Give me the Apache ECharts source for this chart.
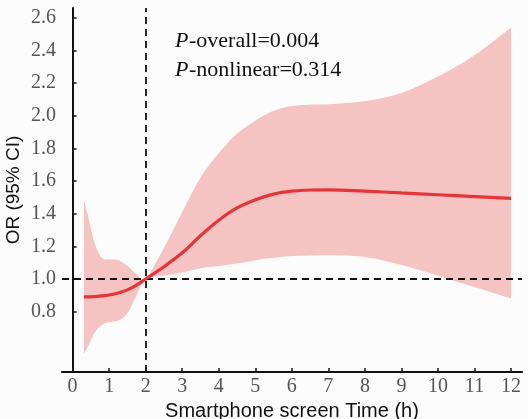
<!DOCTYPE html>
<html><head><meta charset="utf-8">
<script src="https://cdn.jsdelivr.net/npm/echarts@6/dist/echarts.min.js"></script>
<style>html,body{margin:0;padding:0;background:#fcfcfc;}#c{width:528px;height:419px;}</style>
</head><body><div id="c"></div>
<script>
// Smartphone screen time (h)
const xs    = [0.31, 0.45, 0.6, 0.8, 1.0, 1.25, 1.5, 1.75, 2.0, 2.5, 3.0, 3.5, 4.0, 4.5, 5.0, 5.5, 6.0, 6.5, 7.0, 8.0, 9.0, 10.0, 11.0, 12.0];
const orVal = [0.89, 0.89, 0.892, 0.896, 0.902, 0.914, 0.933, 0.962, 1.0, 1.075, 1.16, 1.265, 1.36, 1.435, 1.485, 1.52, 1.538, 1.545, 1.546, 1.538, 1.527, 1.516, 1.505, 1.494];
const upper = [1.49, 1.36, 1.22, 1.13, 1.12, 1.115, 1.08, 1.03, 1.0, 1.19, 1.41, 1.62, 1.77, 1.89, 1.97, 2.03, 2.06, 2.068, 2.07, 2.09, 2.14, 2.24, 2.37, 2.54];
const lower = [0.54, 0.6, 0.67, 0.72, 0.735, 0.745, 0.79, 0.9, 1.0, 1.02, 1.04, 1.065, 1.08, 1.095, 1.115, 1.13, 1.14, 1.143, 1.145, 1.135, 1.085, 1.02, 0.95, 0.88];
const xTicks = [0,1,2,3,4,5,6,7,8,9,10,11,12];
const yTicks = [0.8,1.0,1.2,1.4,1.6,1.8,2.0,2.2,2.4,2.6];
const refX = 2, refY = 1.0;
const pOverall = '0.004', pNonlinear = '0.314';

const chart = echarts.init(document.getElementById('c'), null, {renderer:'canvas'});
const pair = (a) => xs.map((x,i)=>[x,a[i]]);
const serif = '"Liberation Serif","Times New Roman",serif';
const sans = '"Liberation Sans",Arial,sans-serif';

function crSegs(p){
  let d = '';
  for (let i=0;i<p.length-1;i++){
    const p0 = p[Math.max(i-1,0)], p1 = p[i], p2 = p[i+1], p3 = p[Math.min(i+2,p.length-1)];
    const c1 = [p1[0]+(p2[0]-p0[0])/6, p1[1]+(p2[1]-p0[1])/6];
    const c2 = [p2[0]-(p3[0]-p1[0])/6, p2[1]-(p3[1]-p1[1])/6];
    d += ' C'+c1[0]+' '+c1[1]+' '+c2[0]+' '+c2[1]+' '+p2[0]+' '+p2[1];
  }
  return d;
}
function bandItem(params, api){
  if (params.dataIndex !== 0) return null;
  const up = xs.map((x,i)=>api.coord([x, upper[i]]));
  const lo = xs.map((x,i)=>api.coord([x, lower[i]])).reverse();
  const d = 'M'+up[0][0]+' '+up[0][1]+crSegs(up)+' L'+lo[0][0]+' '+lo[0][1]+crSegs(lo)+' Z';
  return {type:'path', shape:{pathData:d}, style:{fill:'#f6c3c3'}};
}

chart.setOption({
  backgroundColor:'#fcfcfc',
  animation:false,
  grid:{left:62,right:6,top:8,bottom:47,containLabel:false,outerBoundsMode:'none'},
  xAxis:{type:'value',min:-0.29,max:12.3,
    axisLine:{lineStyle:{color:'#111',width:2}},
    axisTick:{customValues:xTicks,inside:true,length:4,lineStyle:{color:'#111',width:1.5}},
    axisLabel:{customValues:xTicks,fontFamily:serif,fontSize:20,color:'#555',margin:5,formatter:v=>String(Math.round(v))},
    splitLine:{show:false},
    name:'Smartphone screen Time (h)',nameLocation:'middle',nameGap:26,
    nameTextStyle:{fontFamily:sans,fontSize:20,color:'#111'}},
  yAxis:{type:'value',min:0.43,max:2.66,
    axisLine:{show:true,lineStyle:{color:'#111',width:2}},
    axisTick:{show:true,customValues:yTicks,inside:true,length:4,lineStyle:{color:'#111',width:1.5}},
    axisLabel:{customValues:yTicks,fontFamily:serif,fontSize:20,color:'#555',margin:6,formatter:v=>v.toFixed(1)},
    splitLine:{show:false}},
  graphic:[
    {type:'text',x:14,y:190,rotation:Math.PI/2,z:100,style:{text:'OR (95% CI)',font:'19px '+sans,fill:'#111',align:'center',verticalAlign:'middle'}},
    {type:'text',x:175,y:41,z:100,style:{text:'P',font:'italic 22px '+serif,fill:'#111',verticalAlign:'middle'}},
    {type:'text',x:189,y:41,z:100,style:{text:'-overall='+pOverall,font:'22px '+serif,fill:'#111',verticalAlign:'middle'}},
    {type:'text',x:175,y:70,z:100,style:{text:'P',font:'italic 22px '+serif,fill:'#111',verticalAlign:'middle'}},
    {type:'text',x:189,y:70,z:100,style:{text:'-nonlinear='+pNonlinear,font:'22px '+serif,fill:'#111',verticalAlign:'middle'}}
  ],
  series:[
    {type:'custom',data:pair(orVal),renderItem:bandItem,clip:true,silent:true,z:1,
     markLine:{silent:true,symbol:'none',label:{show:false},lineStyle:{color:'#111',type:[7,5],width:1.8},
       data:[{xAxis:refX},{yAxis:refY}]}},
    {type:'line',data:pair(orVal),smooth:0.4,symbol:'none',lineStyle:{color:'#e63538',width:3.2},z:5}
  ]
});
</script></body></html>
